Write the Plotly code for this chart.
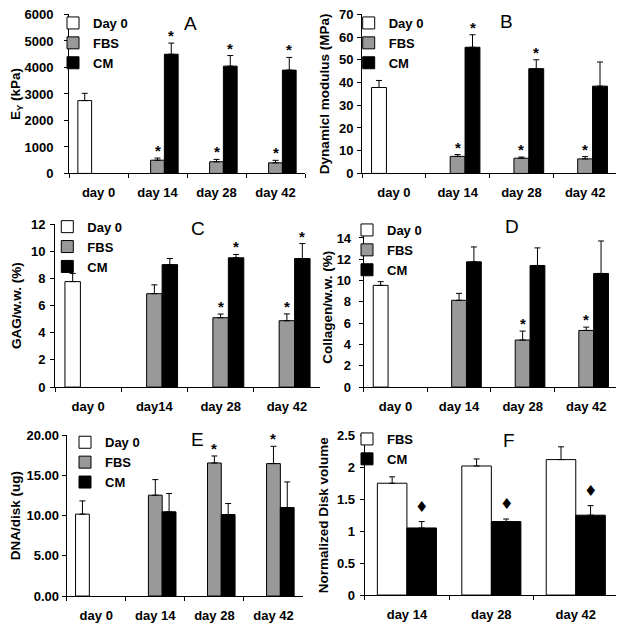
import plotly.graph_objects as go

# the page body has an 8px margin, so the figure is drawn 8px smaller
# and every pixel position below is measured in window coordinates
PAGE_W, PAGE_H = 624, 631
OFF = 8
W, H = PAGE_W - OFF, PAGE_H - OFF

# ---- data ----
cats_a = ["day 0", "day 14", "day 28", "day 42"]
cats_c = ["day 0", "day14", "day 28", "day 42"]
cats_f = ["day 14", "day 28", "day 42"]

# A: Young's modulus (kPa)
a_day0, a_day0_err = [2750], [275]
a_fbs, a_fbs_err = [500, 440, 400], [80, 90, 95]
a_cm, a_cm_err = [4500, 4050, 3900], [420, 400, 480]
a_fbs_star, a_cm_star = [1, 1, 1], [1, 1, 1]

# B: dynamic modulus (MPa)
b_day0, b_day0_err = [37.8], [3.1]
b_fbs, b_fbs_err = [7.5, 6.7, 6.4], [0.8, 0.5, 1.0]
b_cm, b_cm_err = [55.5, 46.1, 38.4], [5.5, 3.9, 10.6]
b_fbs_star, b_cm_star = [1, 1, 1], [1, 1, 0]

# C: GAG/w.w. (%)
c_day0, c_day0_err = [7.77], [0.6]
c_fbs, c_fbs_err = [6.88, 5.11, 4.89], [0.65, 0.27, 0.5]
c_cm, c_cm_err = [9.02, 9.52, 9.47], [0.45, 0.25, 1.1]
c_fbs_star, c_cm_star = [0, 1, 1], [0, 1, 1]

# D: collagen/w.w. (%)
d_day0, d_day0_err = [9.55], [0.35]
d_fbs, d_fbs_err = [8.15, 4.42, 5.32], [0.65, 0.84, 0.31]
d_cm, d_cm_err = [11.76, 11.42, 10.67], [1.4, 1.65, 3.05]
d_fbs_star, d_cm_star = [0, 1, 1], [0, 0, 0]

# E: DNA/disk (ug)
e_day0, e_day0_err = [10.19], [1.65]
e_fbs, e_fbs_err = [12.55, 16.56, 16.48], [1.94, 0.87, 2.15]
e_cm, e_cm_err = [10.48, 10.14, 11.01], [2.28, 1.37, 3.19]
e_fbs_star, e_cm_star = [0, 1, 1], [0, 0, 0]

# F: normalized disk volume
f_fbs, f_fbs_err = [1.75, 2.02, 2.12], [0.1, 0.11, 0.2]
f_cm, f_cm_err = [1.05, 1.15, 1.25], [0.1, 0.04, 0.15]
f_cm_diamond = [1, 1, 1]

FONT = "Arial, Liberation Sans, sans-serif"
GRAY = "#999999"
BARGAP = 0.3


def px_x(x):
    return (x - OFF) / W


def px_y(y):
    return 1 - (y - OFF) / H


panels = [
    dict(letter="A", box=(69, 305, 13.5, 172.7), cats=cats_a, rng=[0, 6000], dtick=1000, fmt="",
         title="E<sub>Y</sub> (kPa)", lstand=8, tstand=0, letter_xy=(191, 22.5), leg=(93, 22),
         series=[("Day 0", "white", a_day0, a_day0_err, None),
                 ("FBS", GRAY, a_fbs, a_fbs_err, a_fbs_star),
                 ("CM", "black", a_cm, a_cm_err, a_cm_star)]),
    dict(letter="B", box=(362, 617, 13.3, 172.7), cats=cats_a, rng=[0, 70], dtick=10, fmt="",
         title="Dynamicl modulus (MPa)", lstand=1, tstand=6, letter_xy=(506, 21), leg=(388.7, 22),
         series=[("Day 0", "white", b_day0, b_day0_err, None),
                 ("FBS", GRAY, b_fbs, b_fbs_err, b_fbs_star),
                 ("CM", "black", b_cm, b_cm_err, b_cm_star)]),
    dict(letter="C", box=(55, 320, 223.5, 386.7), cats=cats_c, rng=[0, 12], dtick=2, fmt="",
         title="GAG/w.w. (%)", lstand=2, tstand=6, letter_xy=(198, 227.5), leg=(87.3, 226.7),
         series=[("Day 0", "white", c_day0, c_day0_err, None),
                 ("FBS", GRAY, c_fbs, c_fbs_err, c_fbs_star),
                 ("CM", "black", c_cm, c_cm_err, c_cm_star)]),
    dict(letter="D", box=(363.7, 618, 226.7, 386.7), cats=cats_a, rng=[0, 15], dtick=2, fmt="",
         title="Collagen/w.w. (%)", lstand=5, tstand=0, letter_xy=(512, 226), leg=(387, 230),
         series=[("Day 0", "white", d_day0, d_day0_err, None),
                 ("FBS", GRAY, d_fbs, d_fbs_err, d_fbs_star),
                 ("CM", "black", d_cm, d_cm_err, d_cm_star)]),
    dict(letter="E", box=(66.7, 303, 435, 596), cats=cats_a, rng=[0, 20], dtick=5, fmt=".2f",
         title="DNA/disk (ug)", lstand=0, tstand=6, letter_xy=(197, 439.5), leg=(105, 442.3),
         series=[("Day 0", "white", e_day0, e_day0_err, None),
                 ("FBS", GRAY, e_fbs, e_fbs_err, e_fbs_star),
                 ("CM", "black", e_cm, e_cm_err, e_cm_star)]),
    dict(letter="F", box=(364.7, 618, 435, 595), cats=cats_f, rng=[0, 2.5], dtick=0.5, fmt="",
         title="Normalized Disk volume", lstand=2, tstand=5, letter_xy=(509, 440.5), leg=(387, 439),
         series=[("FBS", "white", f_fbs, f_fbs_err, None),
                 ("CM", "black", f_cm, f_cm_err, f_cm_diamond)]),
]

fig = go.Figure()
annotations = []
layout = dict(
    width=W, height=H, margin=dict(l=0, r=0, t=0, b=0),
    paper_bgcolor="white", plot_bgcolor="white",
    barmode="group", bargap=BARGAP, bargroupgap=0,
    font=dict(family=FONT, size=13, color="black"),
)

for i, p in enumerate(panels):
    n = i + 1
    sfx = "" if n == 1 else str(n)
    xa, ya = "x" + sfx, "y" + sfx
    leg = "legend" + sfx
    x0, x1, yt, yb = p["box"]
    cats = p["cats"]
    nser = len(p["series"])
    # pixel width of one bar, used to shift the star labels onto their bar
    barw = (x1 - x0) / len(cats) * (1 - BARGAP) / nser

    for k, (name, color, vals, errs, stars) in enumerate(p["series"]):
        if len(vals) < len(cats):
            if name == "Day 0":
                xs = cats[:len(vals)]
            else:
                xs = cats[len(cats) - len(vals):]
        else:
            xs = cats
        fig.add_trace(go.Bar(
            x=xs, y=vals, name=name, xaxis=xa, yaxis=ya, legend=leg,
            marker=dict(color=color, line=dict(color="black", width=1)),
            error_y=dict(type="data", array=errs, arrayminus=[0] * len(errs), symmetric=False,
                         color="black", thickness=1, width=3),
            hoverinfo="skip",
        ))
        if stars:
            diamond = p["letter"] == "F"
            for xv, v, e, s in zip(xs, vals, errs, stars):
                if not s:
                    continue
                annotations.append(dict(
                    x=xv, y=v + e, xref=xa, yref=ya, text="♦" if diamond else "*",
                    showarrow=False, yanchor="bottom",
                    xshift=(k - (nser - 1) / 2) * barw,
                    yshift=4 if diamond else -3,
                    font=dict(family=FONT if not diamond else "DejaVu Sans", size=15,
                              color="black", weight="bold"),
                ))

    layout["xaxis" + sfx] = dict(
        domain=[px_x(x0), px_x(x1)], anchor=ya, type="category", categoryorder="array",
        categoryarray=cats, showline=True, linecolor="black", linewidth=1,
        ticks="outside", ticklen=4, tickcolor="black", tickson="boundaries",
        ticklabelstandoff=7, showgrid=False, zeroline=False, automargin=False,
        tickfont=dict(family=FONT, size=13, weight="bold"),
    )
    layout["yaxis" + sfx] = dict(
        domain=[px_y(yb), px_y(yt)], anchor=xa, range=p["rng"], dtick=p["dtick"],
        tickformat=p["fmt"], showline=True, linecolor="black", linewidth=1,
        ticks="outside", ticklen=4, tickcolor="black", showgrid=False, zeroline=False,
        ticklabelstandoff=p["lstand"], automargin=False, ticklabeloverflow="allow",
        tickfont=dict(family=FONT, size=13, weight="bold"),
        title=dict(text=p["title"], standoff=p["tstand"],
                   font=dict(family=FONT, size=13.5, weight="bold")),
    )
    # legend placed from the wanted position of its first text line
    tx, ty = p["leg"]
    layout[leg] = dict(
        x=px_x(tx - 40), y=px_y(ty - 15), xanchor="left", yanchor="top",
        bgcolor="rgba(0,0,0,0)", borderwidth=0,
        font=dict(family=FONT, size=13, weight="bold", color="black"),
        itemclick=False, itemdoubleclick=False,
    )
    lxp, lyp = p["letter_xy"]
    annotations.append(dict(
        x=px_x(lxp), y=px_y(lyp), xref="paper", yref="paper", text=p["letter"],
        showarrow=False, xanchor="center", yanchor="middle",
        font=dict(family=FONT, size=19, color="black"),
    ))

layout["annotations"] = annotations
fig.update_layout(**layout)
fig.write_html("out.html")
